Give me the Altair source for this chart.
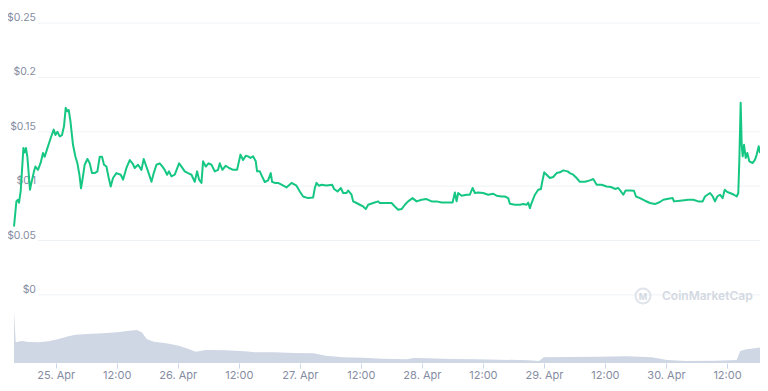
import altair as alt
import pandas as pd

# (hours after 25 Apr 00:00, price in USD)
price_points = [
    (-8.20, 0.0629), (-7.73, 0.0859), (-7.42, 0.0875), (-7.22, 0.0847), (-6.89, 0.0951),
    (-6.35, 0.135), (-6.10, 0.131), (-5.84, 0.135), (-5.57, 0.127), (-5.06, 0.0967),
    (-4.78, 0.103), (-4.27, 0.1136), (-3.99, 0.118), (-3.48, 0.115), (-2.95, 0.1216),
    (-2.50, 0.1305), (-2.16, 0.127), (-1.63, 0.135), (-0.98, 0.1443), (-0.39, 0.152),
    (-0.06, 0.147), (0.33, 0.150), (0.79, 0.1458), (1.24, 0.147), (1.63, 0.155),
    (1.97, 0.172), (2.30, 0.1688), (2.56, 0.170), (2.89, 0.160), (3.40, 0.138),
    (3.88, 0.127), (4.27, 0.121), (4.66, 0.1105), (4.98, 0.098), (5.31, 0.1075),
    (5.70, 0.1197), (6.24, 0.125), (6.69, 0.121), (7.14, 0.112), (7.67, 0.112),
    (8.20, 0.1136), (8.66, 0.127), (9.11, 0.127), (9.50, 0.1197), (9.97, 0.118),
    (10.43, 0.1075), (10.82, 0.0997), (11.27, 0.1075), (11.94, 0.112), (12.79, 0.1105),
    (13.24, 0.106), (13.91, 0.1167), (14.56, 0.124),
    (15.09, 0.121), (15.54, 0.1167), (16.19, 0.1197), (16.86, 0.115), (17.31, 0.125),
    (17.70, 0.1197), (18.16, 0.1136), (18.83, 0.104), (19.28, 0.112), (19.81, 0.1197),
    (20.46, 0.121), (20.99, 0.118), (21.44, 0.115), (21.90, 0.1105), (22.29, 0.1136),
    (22.76, 0.109), (23.41, 0.1105), (24.26, 0.121), (24.73, 0.118), (25.38, 0.1136),
    (26.03, 0.112), (26.70, 0.1105), (27.34, 0.104), (27.80, 0.1136), (28.19, 0.106),
    (28.66, 0.103), (28.98, 0.1228), (29.51, 0.118), (30.04, 0.121), (30.63, 0.1197),
    (31.28, 0.1136), (31.93, 0.115), (32.26, 0.121), (32.79, 0.115), (33.44, 0.1188),
    (34.09, 0.1167), (34.88, 0.115), (35.67, 0.115), (36.33, 0.129), (36.85, 0.124),
    (37.38, 0.128), (37.83, 0.1274), (38.30, 0.126), (38.81, 0.1274), (39.34, 0.1228),
    (39.60, 0.1136), (40.13, 0.1136),
    (40.58, 0.109), (41.11, 0.1038), (41.76, 0.1053), (42.29, 0.112), (42.55, 0.104),
    (43.08, 0.103), (43.73, 0.103), (44.40, 0.1013), (45.38, 0.0988), (46.37, 0.103),
    (47.35, 0.1004), (48.00, 0.0951), (48.65, 0.0905), (49.63, 0.089), (50.62, 0.0896),
    (50.95, 0.0983), (51.28, 0.103), (51.74, 0.1004), (52.27, 0.1013), (53.25, 0.1007),
    (54.35, 0.1013), (54.75, 0.0974), (55.42, 0.0951), (56.07, 0.0983), (56.52, 0.0937),
    (57.19, 0.0937), (57.50, 0.096), (58.17, 0.0921), (58.49, 0.086), (59.15, 0.0845),
    (59.80, 0.0829), (60.45, 0.0813), (60.98, 0.0789), (61.44, 0.0829), (62.42, 0.0845),
    (63.40, 0.086), (63.74, 0.0845),
    (64.72, 0.0845), (66.04, 0.0845), (66.69, 0.0813), (67.34, 0.0783), (68.01, 0.0789),
    (68.66, 0.0829), (69.30, 0.086), (70.17, 0.089), (70.96, 0.086), (71.94, 0.0875),
    (72.92, 0.0881), (73.91, 0.086), (74.89, 0.086), (75.88, 0.085), (76.86, 0.085),
    (78.04, 0.085), (78.49, 0.0942), (78.83, 0.086), (79.14, 0.0937), (79.81, 0.0912),
    (80.79, 0.0921), (81.44, 0.0921), (81.97, 0.0983), (82.43, 0.0937), (83.08, 0.0942),
    (84.06, 0.0937), (85.04, 0.0921), (86.03, 0.093), (86.69, 0.0912), (87.68, 0.0905),
    (88.33, 0.0905), (88.98, 0.089), (89.31, 0.0838), (90.29, 0.0829), (91.28, 0.0829),
    (91.93, 0.0835), (92.60, 0.0829), (92.91, 0.085), (93.25, 0.0798), (93.58, 0.0845),
    (94.23, 0.0921), (94.88, 0.0967), (95.41, 0.0974), (95.67, 0.104), (96.06, 0.1127),
    (96.53, 0.1105), (97.18, 0.1075), (97.83, 0.1084), (98.50, 0.112), (99.15, 0.1127),
    (99.80, 0.1145), (100.66, 0.1136), (101.11, 0.112), (101.76, 0.1105), (102.43, 0.1075),
    (103.08, 0.104), (104.07, 0.104), (105.05, 0.1053), (105.70, 0.1066), (106.37, 0.1013),
    (107.35, 0.1013), (108.33, 0.0997), (109.18, 0.0992), (109.97, 0.0974), (110.62, 0.0983),
    (111.15, 0.0951), (111.60, 0.0921), (112.07, 0.096), (112.92, 0.096),
    (113.71, 0.0958), (114.10, 0.0905), (114.88, 0.089), (115.87, 0.0866), (116.85, 0.0845),
    (117.84, 0.0835), (118.82, 0.0854), (119.47, 0.0875), (120.46, 0.0884), (121.32, 0.089),
    (121.57, 0.086), (122.75, 0.0866), (124.39, 0.0875), (125.37, 0.0875), (126.35, 0.086),
    (127.22, 0.086), (127.67, 0.0905), (128.66, 0.0937), (129.19, 0.0905), (129.64, 0.086),
    (130.09, 0.0905), (130.62, 0.0921), (131.15, 0.089), (131.55, 0.0967), (132.06, 0.0946),
    (132.59, 0.0937), (133.38, 0.0921), (133.91, 0.0905), (134.22, 0.0937), (134.42, 0.1228),
    (134.69, 0.1766), (134.89, 0.138), (135.09, 0.1274), (135.35, 0.138), (135.68, 0.126),
    (135.99, 0.1305), (136.39, 0.1228), (137.05, 0.1213), (137.51, 0.1244), (137.84, 0.129),
    (138.24, 0.1366), (138.49, 0.1305),
]

# (hours after 25 Apr 00:00, relative 24h volume)
volume_points = [
    (-8.20, 52), (-7.87, 20.7), (-6.69, 22), (-5.31, 21), (-3.34, 20.7), (-1.38, 21.7),
    (0.59, 24), (2.48, 26.7), (3.93, 28.3), (6.30, 29), (9.25, 29.7), (12.12, 30.7),
    (14.56, 32.3), (15.93, 33), (16.92, 30.7), (17.90, 24), (19.28, 21.3), (21.78, 19.7),
    (24.20, 17.3), (26.16, 14), (27.54, 11.3), (29.51, 13), (33.34, 12.7), (37.18, 11.7),
    (39.15, 10.7), (42.98, 10.7), (46.82, 10), (50.69, 9.7), (53.11, 7.3), (56.46, 5.7),
    (60.33, 5.3), (64.13, 4.3), (69.05, 3.7), (70.43, 5), (72.89, 4.7), (77.70, 4),
    (82.53, 3.7), (87.35, 3.3), (93.05, 2.7), (95.02, 2), (96.00, 5.7), (100.84, 6),
    (106.62, 6.3), (112.33, 6.7), (117.25, 5.7), (120.20, 3), (123.93, 2), (129.84, 2.3),
    (133.90, 3), (134.60, 12), (135.60, 13.5), (138.49, 15.5),
]

# x ticks: hours after 25 Apr 00:00 and their labels
x_tick_hours = [0, 12, 24, 36, 48, 60, 72, 84, 96, 108, 120, 132]
x_tick_labels = ["25. Apr", "12:00", "26. Apr", "12:00", "27. Apr", "12:00",
                 "28. Apr", "12:00", "29. Apr", "12:00", "30. Apr", "12:00"]

price_ticks = [0, 0.05, 0.1, 0.15, 0.2, 0.25]
price_tick_labels = ["$0", "$0.05", "$0.1", "$0.15", "$0.2", "$0.25"]
watermark = ["CoinMarketCap"]

price_df = pd.DataFrame(price_points, columns=["h", "price"])
vol_df = pd.DataFrame(volume_points, columns=["h", "vol"])
grid_df = pd.DataFrame({"v": price_ticks, "label": price_tick_labels})

label_map = "{" + ", ".join(f"'{h}': '{l}'" for h, l in zip(x_tick_hours, x_tick_labels)) + "}"

LABEL = "#858ca2"
FONT = "Inter"
W, H = 746, 340
price_scale = alt.Scale(domain=[-0.0626, 0.25], nice=False, zero=False)
x_scale = alt.Scale(domain=[price_points[0][0], price_points[-1][0]], nice=False, zero=False)

x_axis = alt.Axis(
    values=x_tick_hours,
    labelExpr=label_map + "[datum.value + '']",
    grid=False, domain=False, ticks=True, tickSize=5, tickColor="#ccd6eb",
    labelPadding=1, labelColor=LABEL, labelFontSize=11, labelFont=FONT,
    labelFlush=False, labelOverlap=False, title=None,
)
x_enc = alt.X("h:Q", scale=x_scale, axis=x_axis)

volume = alt.Chart(vol_df).mark_area(color="#cfd6e4", opacity=1).encode(
    x=x_enc,
    y=alt.Y("vol:Q", scale=alt.Scale(domain=[0, 340], nice=False), axis=None),
)

grid = alt.Chart(grid_df).mark_rule(color="#eff2f5", strokeWidth=1).encode(
    y=alt.Y("v:Q", scale=price_scale, axis=None),
    x=alt.value(24),
    x2=alt.value(W),
)

ylabels = alt.Chart(grid_df).mark_text(
    align="right", baseline="bottom", fontSize=10.5, color=LABEL, font=FONT
).encode(
    y=alt.Y("v:Q", scale=price_scale, axis=None),
    x=alt.value(22),
    text="label:N",
)

line = alt.Chart(price_df).mark_line(color="#16c784", strokeWidth=2, strokeJoin="round").encode(
    x=x_enc,
    y=alt.Y("price:Q", scale=price_scale, axis=None),
    order="h:Q",
)

wm_df = pd.DataFrame({"t": watermark})
wm_text = alt.Chart(wm_df).mark_text(
    align="left", baseline="middle", fontSize=12, fontWeight=600, color="#d3d9e3", font=FONT
).encode(x=alt.value(648), y=alt.value(273), text="t:N")
wm_circle = alt.Chart(wm_df).mark_point(
    shape="circle", filled=False, size=225, strokeWidth=2, color="#d3d9e3"
).encode(x=alt.value(629), y=alt.value(273))
wm_m = alt.Chart(wm_df).mark_text(
    align="center", baseline="middle", fontSize=9, fontWeight=700, color="#d3d9e3", font=FONT
).encode(x=alt.value(629), y=alt.value(273.5), text=alt.value("M"))

chart = alt.layer(volume, grid, ylabels, wm_circle, wm_m, wm_text, line).resolve_scale(
    y="independent"
).properties(
    width=W, height=H,
    autosize=alt.AutoSizeParams(type="none"),
    padding={"left": 6, "top": 15, "right": 0, "bottom": 20},
    background="white",
).configure_view(stroke=None)

chart.save("out.html", embed_options={"renderer": "svg", "actions": False})
